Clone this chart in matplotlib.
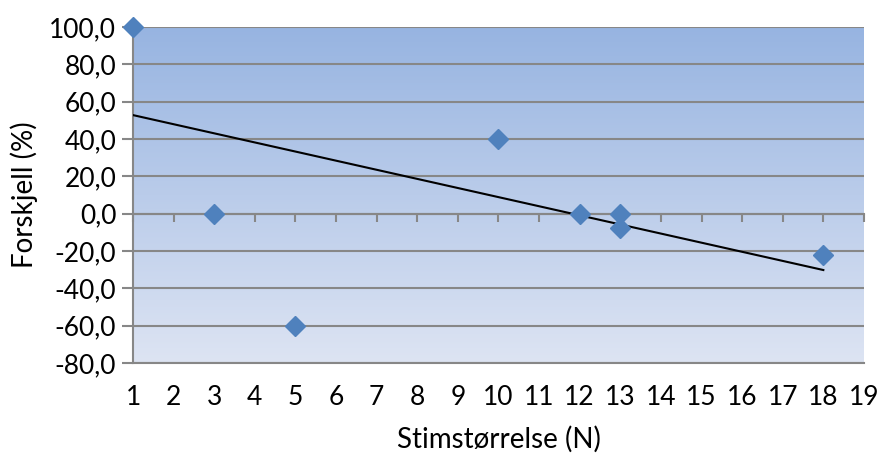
import numpy as np
import matplotlib.pyplot as plt
from matplotlib.colors import LinearSegmentedColormap

# stimstørrelse vs forskjell
stim_n = [1, 3, 5, 10, 12, 13, 13, 18]
forskjell = [100.0, 0.0, -60.0, 40.0, 0.0, 0.0, -7.7, -22.2]

# trendlinje (lineær), endepunkter
trend_x = [1, 18]
trend_y = [52.8, -30.2]

y_ticks = [-80, -60, -40, -20, 0, 20, 40, 60, 80, 100]
x_ticks = list(range(1, 20))

plt.rcParams['font.family'] = ['Lato', 'DejaVu Sans']

fig = plt.figure(figsize=(8.78, 4.53), dpi=100)
ax = fig.add_axes([0.1515, 0.1987, 0.8325, 0.7417])

# gradient bakgrunn
grad = LinearSegmentedColormap.from_list('bg', ['#dde4f3', '#97b4e1'])
ax.imshow(np.linspace(0, 1, 256).reshape(-1, 1), cmap=grad, origin='lower',
          extent=[1, 19, -80, 100], aspect='auto', zorder=0)

ax.set_xlim(1, 19)
ax.set_ylim(-80, 100)
ax.set_yticks(y_ticks)
ax.set_yticklabels([f'{v:.1f}'.replace('.', ',') for v in y_ticks])
ax.set_xticks(x_ticks)

grid_col = '#878787'
ax.yaxis.grid(True, color=grid_col, linewidth=1.5, zorder=1)
ax.set_axisbelow(True)

for s in ['top', 'right']:
    ax.spines[s].set_visible(False)
ax.spines['left'].set_color(grid_col)
ax.spines['left'].set_linewidth(1.5)
ax.spines['bottom'].set_color(grid_col)
ax.spines['bottom'].set_linewidth(1.5)

ax.tick_params(axis='y', direction='out', length=8, width=1.5, color=grid_col,
               labelsize=19, pad=4)
ax.tick_params(axis='x', length=0, labelsize=19, pad=16)

# x-aksen krysser ved 0
sec = ax.secondary_xaxis(80 / 180)
sec.set_xticks(x_ticks)
sec.tick_params(axis='x', direction='out', length=6, width=1.5, color=grid_col,
                labelbottom=False, labeltop=False)
sec.spines['bottom'].set_color(grid_col)
sec.spines['bottom'].set_linewidth(1.5)
sec.spines['top'].set_visible(False)

ax.plot(trend_x, trend_y, color='black', linewidth=1.5, zorder=3)
ax.plot(stim_n, forskjell, linestyle='none', marker='D', markersize=10.5,
        color='#4f81bd', markeredgecolor='#4f81bd', zorder=4, clip_on=False)

ax.set_xlabel('Stimstørrelse (N)', fontsize=20, labelpad=11)
ax.set_ylabel('Forskjell (%)', fontsize=20, labelpad=8)

fig.savefig('out.png', dpi=100)
